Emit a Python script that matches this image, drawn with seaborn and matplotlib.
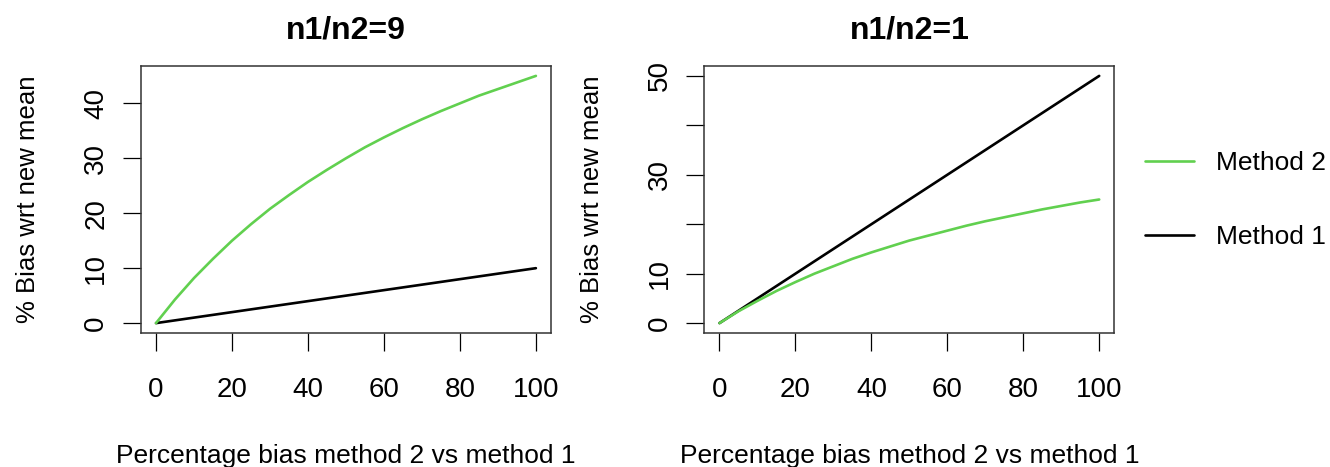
import matplotlib
matplotlib.use("Agg")
import matplotlib.pyplot as plt
from matplotlib.lines import Line2D
import pandas as pd
import seaborn as sns

# percentage bias of method 2 vs method 1 (x axis)
x_pct = [0, 5, 10, 15, 20, 25, 30, 35, 40, 45, 50,
         55, 60, 65, 70, 75, 80, 85, 90, 95, 100]

# n1/n2 = 9
m1_ratio9 = [0, 0.5, 1.0, 1.5, 2.0, 2.5, 3.0, 3.5, 4.0, 4.5, 5.0,
             5.5, 6.0, 6.5, 7.0, 7.5, 8.0, 8.5, 9.0, 9.5, 10.0]
m2_ratio9 = [0, 4.3, 8.2, 11.7, 15.0, 18.0, 20.8, 23.3, 25.7, 27.9, 30.0,
             32.0, 33.8, 35.5, 37.1, 38.6, 40.0, 41.4, 42.6, 43.8, 45.0]

# n1/n2 = 1
m1_ratio1 = [0, 2.5, 5.0, 7.5, 10.0, 12.5, 15.0, 17.5, 20.0, 22.5, 25.0,
             27.5, 30.0, 32.5, 35.0, 37.5, 40.0, 42.5, 45.0, 47.5, 50.0]
m2_ratio1 = [0, 2.4, 4.5, 6.5, 8.3, 10.0, 11.5, 13.0, 14.3, 15.5, 16.7,
             17.7, 18.7, 19.7, 20.6, 21.4, 22.2, 23.0, 23.7, 24.4, 25.0]

panel_titles = ["n1/n2=9", "n1/n2=1"]
x_ticks = [0, 20, 40, 60, 80, 100]
y_ticks_9 = [0, 10, 20, 30, 40]
y_ticks_1 = [0, 10, 20, 30, 40, 50]
y_labels_1 = ["0", "10", "", "30", "", "50"]

GREEN = "#61D04F"
palette = {"Method 1": "black", "Method 2": GREEN}


def long_frame(m1, m2):
    df = pd.DataFrame({"x": x_pct, "Method 1": m1, "Method 2": m2})
    return df.melt(id_vars="x", var_name="method", value_name="bias")


sns.set_theme(style="white")
plt.rcParams["font.family"] = ["Liberation Sans", "DejaVu Sans"]
plt.rcParams["text.color"] = "black"
plt.rcParams["axes.labelcolor"] = "black"
plt.rcParams["xtick.color"] = "black"
plt.rcParams["ytick.color"] = "black"

fig = plt.figure(figsize=(13.3, 4.67), dpi=100)
ax1 = fig.add_axes([140.8 / 1330, 1 - 333 / 467, 410.3 / 1330, 267 / 467])
ax2 = fig.add_axes([704.3 / 1330, 1 - 333 / 467, 410.1 / 1330, 267 / 467])

panels = [
    (ax1, long_frame(m1_ratio9, m2_ratio9), y_ticks_9, None, 45),
    (ax2, long_frame(m1_ratio1, m2_ratio1), y_ticks_1, y_labels_1, 50),
]

for i, (ax, df, yt, ylab, ymax) in enumerate(panels):
    sns.lineplot(data=df, x="x", y="bias", hue="method",
                 hue_order=["Method 1", "Method 2"], palette=palette,
                 linewidth=1.9, legend=False, ax=ax)
    ax.set_xlim(-4, 104)
    ax.set_ylim(-0.04 * ymax, ymax * 1.04)
    ax.set_xticks(x_ticks)
    ax.set_yticks(yt)
    if ylab is not None:
        ax.set_yticklabels(ylab)
    ax.tick_params(axis="both", which="major", direction="out", length=12.7,
                   width=0.9, color="black", labelsize=20, bottom=True, left=True)
    ax.tick_params(axis="x", pad=19)
    ax.tick_params(axis="y", pad=10, labelrotation=90)
    for lab in ax.get_yticklabels():
        lab.set_verticalalignment("center")
    for sp in ax.spines.values():
        sp.set_color("#333333")
        sp.set_linewidth(1.1)
    ax.set_title(panel_titles[i], fontsize=23, fontweight="bold", pad=20)
    ax.set_xlabel("Percentage bias method 2 vs method 1", fontsize=19)
    ax.xaxis.set_label_coords(0.5, -0.415)
    ax.xaxis.label.set_verticalalignment("top")
    ax.set_ylabel("% Bias wrt new mean", fontsize=18.5)
    ax.yaxis.set_label_coords(-0.245, 0.5)

handles = [Line2D([], [], color=GREEN, linewidth=1.9),
           Line2D([], [], color="black", linewidth=1.9)]
fig.legend(handles, ["Method 2", "Method 1"], loc="center left",
           bbox_to_anchor=(1144.7 / 1330, 1 - 200 / 467), frameon=False,
           fontsize=19, handlelength=1.85, handletextpad=0.85,
           labelspacing=1.9, borderpad=0, borderaxespad=0)

fig.savefig("out.png", dpi=100, facecolor="white")
